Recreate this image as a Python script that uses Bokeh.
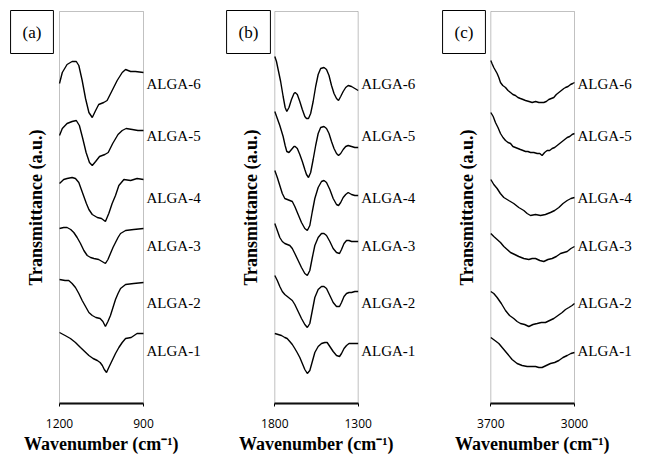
from bokeh.plotting import figure
from bokeh.models import Range1d, FixedTicker, Label, LinearAxis, BoxAnnotation
from bokeh.layouts import row
from bokeh.embed import file_html
from bokeh.resources import INLINE

# ---------------- data (transmittance in a.u., stacked) -------------
samples = ["ALGA-1", "ALGA-2", "ALGA-3", "ALGA-4", "ALGA-5", "ALGA-6"]

# Panel (a): 1200-900 cm-1
a_wn_1 = [1200,1180,1161,1143,1125,1110,1095,1080,1065,1055,1047,1040,1032,1024,1012,1000,988,976,964,944,923,900]
a_tr_1 = [71,68,65,61,56,52,48,45,43,41,38,34,31,36,43,50,56,61,65,66,70,70]
a_wn_2 = [1200,1180,1167,1155,1143,1131,1119,1107,1095,1083,1070,1055,1045,1036,1027,1018,1009,1000,991,982,964,935,900]
a_tr_2 = [124,123,123,120,116,110,103,97,91,88,86,85,82,77,82,88,96,104,110,115,119,120,121]
a_wn_3 = [1200,1185,1173,1160,1149,1137,1125,1113,1101,1089,1077,1060,1048,1036,1027,1018,1009,1000,991,982,964,935,900]
a_tr_3 = [175,176,176,174,171,166,160,153,148,146,145,144,142,140,144,150,156,161,166,170,173,174,175]
a_wn_4 = [1200,1185,1173,1155,1143,1131,1122,1113,1104,1095,1083,1065,1050,1036,1024,1012,1000,988,970,946,923,900]
a_tr_4 = [220,224,225,226,225,221,214,207,200,194,189,186,185,182,190,200,208,218,224,223,225,224]
a_wn_5 = [1200,1190,1173,1155,1140,1129,1117,1105,1093,1083,1071,1057,1038,1026,1010,991,976,962,940,920,900]
a_tr_5 = [268,275,280,282,283,278,265,251,241,238,242,247,249,251,260,269,273,275,274,273,273]
a_wn_6 = [1200,1190,1173,1155,1140,1131,1119,1107,1095,1083,1071,1060,1042,1030,1012,994,976,964,946,929,900]
a_tr_6 = [320,331,339,342,342,338,323,305,291,286,293,299,301,303,313,323,331,334,332,332,331]

# Panel (b): 1800-1300 cm-1
b_wn_1 = [1800,1780,1760,1740,1726,1710,1695,1680,1666,1650,1635,1620,1605,1590,1575,1560,1540,1520,1500,1486,1470,1450,1430,1412,1400,1385,1370,1355,1340,1320,1300]
b_tr_1 = [70,69,68,66,65,62,59,55,51,46,40,34,30,33,42,51,57,60,61,61,57,52,48,47,50,55,58,60,60,60,60]
b_wn_2 = [1800,1785,1770,1755,1740,1725,1710,1695,1680,1660,1640,1620,1605,1590,1575,1560,1540,1520,1505,1490,1470,1450,1430,1412,1400,1385,1370,1355,1340,1320,1300]
b_tr_2 = [128,123,117,112,109,107,105,103,99,92,85,79,76,80,93,106,114,117,117,115,108,101,97,97,101,107,110,111,111,112,112]
b_wn_3 = [1800,1785,1770,1755,1740,1725,1710,1695,1680,1660,1640,1620,1605,1590,1575,1560,1540,1520,1505,1490,1470,1450,1430,1412,1400,1385,1370,1355,1340,1320,1300]
b_tr_3 = [180,173,166,162,160,159,158,155,150,143,136,130,128,133,146,158,166,170,170,168,162,155,151,150,154,160,163,163,162,162,162]
b_wn_4 = [1800,1785,1770,1755,1740,1725,1710,1695,1680,1660,1640,1620,1605,1590,1575,1560,1540,1520,1505,1490,1470,1450,1430,1418,1405,1390,1375,1360,1340,1320,1300]
b_tr_4 = [233,226,218,210,205,204,203,202,197,189,181,175,173,178,192,205,216,222,223,221,214,205,199,198,201,206,209,211,209,208,208]
b_wn_5 = [1800,1785,1770,1750,1738,1728,1715,1700,1685,1678,1665,1650,1635,1620,1610,1598,1585,1570,1555,1540,1525,1505,1490,1475,1460,1445,1430,1418,1405,1390,1375,1360,1340,1320,1300]
b_tr_5 = [292,285,278,267,258,252,251,254,257,257,255,249,242,234,229,226,231,244,258,270,276,277,275,270,262,255,250,248,250,254,257,258,257,256,256]
b_wn_6 = [1800,1790,1780,1765,1750,1738,1728,1715,1700,1685,1678,1665,1650,1635,1620,1610,1598,1585,1570,1555,1540,1525,1505,1490,1475,1460,1445,1430,1418,1405,1390,1375,1360,1340,1320,1300]
b_tr_6 = [347,342,334,322,307,296,292,296,304,310,311,309,302,294,287,285,285,290,302,317,329,335,336,334,328,318,310,305,303,307,312,316,318,317,315,313]

# Panel (c): 3700-3000 cm-1
c_wn_1 = [3700,3666,3633,3598,3563,3522,3480,3438,3396,3361,3326,3298,3271,3236,3201,3166,3131,3096,3061,3030,3000]
c_tr_1 = [66,63,60,55,50,44,40,38,37,37,37,36,36,38,40,41,43,46,48,50,51]
c_wn_2 = [3700,3675,3647,3612,3577,3543,3508,3480,3452,3417,3382,3347,3312,3278,3243,3208,3173,3138,3103,3075,3047,3020,3000]
c_tr_2 = [112,110,106,100,93,88,85,82,80,79,77,79,80,81,81,83,85,88,91,94,96,98,100]
c_wn_3 = [3700,3675,3647,3619,3591,3563,3535,3500,3466,3424,3382,3354,3326,3290,3257,3222,3187,3152,3117,3089,3061,3030,3000]
c_tr_3 = [170,167,164,161,157,154,151,149,147,145,144,145,145,143,142,144,145,147,150,151,152,155,157]
c_wn_4 = [3700,3675,3647,3620,3591,3550,3508,3466,3424,3396,3368,3326,3284,3243,3201,3166,3131,3096,3061,3030,3000]
c_tr_4 = [224,219,215,210,206,203,200,196,193,190,188,189,188,189,191,193,196,200,203,205,206]
c_wn_5 = [3700,3680,3661,3640,3619,3598,3577,3556,3535,3515,3494,3473,3452,3430,3410,3389,3368,3340,3312,3290,3271,3250,3229,3208,3187,3166,3145,3124,3103,3082,3061,3040,3020,3000]
c_tr_5 = [291,287,281,276,270,266,263,261,260,257,256,255,254,253,252,252,251,251,250,250,248,251,253,253,255,256,258,260,262,264,266,267,269,270]
c_wn_6 = [3700,3690,3675,3661,3647,3633,3619,3600,3577,3556,3535,3515,3494,3473,3452,3430,3410,3380,3354,3325,3298,3275,3257,3236,3215,3194,3173,3152,3131,3110,3089,3075,3054,3033,3015,3000]
c_tr_6 = [343,340,336,333,330,326,321,318,316,313,311,309,308,306,305,304,303,302,301,302,301,301,301,302,304,305,306,309,311,313,315,316,317,319,320,321]

panel_tags = ["(a)", "(b)", "(c)"]
x_limits = [(1200, 900), (1800, 1300), (3700, 3000)]
x_ticks = [[1200, 900], [1800, 1300], [3700, 3000]]
y_limits = (0, 392)

# heights of the sample names (same in every panel)
name_levels = [53, 101, 158, 206, 268, 320]

panels_data = [
    [(a_wn_1, a_tr_1), (a_wn_2, a_tr_2), (a_wn_3, a_tr_3), (a_wn_4, a_tr_4), (a_wn_5, a_tr_5), (a_wn_6, a_tr_6)],
    [(b_wn_1, b_tr_1), (b_wn_2, b_tr_2), (b_wn_3, b_tr_3), (b_wn_4, b_tr_4), (b_wn_5, b_tr_5), (b_wn_6, b_tr_6)],
    [(c_wn_1, c_tr_1), (c_wn_2, c_tr_2), (c_wn_3, c_tr_3), (c_wn_4, c_tr_4), (c_wn_5, c_tr_5), (c_wn_6, c_tr_6)],
]

SERIF = "Liberation Serif"

# ---------------- layout geometry (pixels) ----------------
H = 454
FRAME_TOP, FRAME_BOTTOM = 11, 403          # box top / bottom on screen
# per panel: figure width, box left px, box right px, tag box centre x
geom = [(215, 59.0, 143.0, 31.5), (215, 59.3, 142.7, 33.0), (216, 60.3, 144.0, 33.5)]
TAG_CY = 31.5


def make_panel(i):
    w, bx0, bx1, tagx = geom[i]
    x0, x1 = x_limits[i]
    ux = (x0 - x1) / (bx1 - bx0)                     # data units per pixel (reversed axis)
    uy = (y_limits[1] - y_limits[0]) / (FRAME_BOTTOM - FRAME_TOP)
    xr = Range1d(x0 + bx0 * ux, x1 - (w - bx1) * ux)
    yr = Range1d(y_limits[0] - (H - FRAME_BOTTOM) * uy, y_limits[1] + FRAME_TOP * uy)

    p = figure(width=w, height=H, output_backend="svg", toolbar_location=None,
               x_range=xr, y_range=yr, x_axis_location=None, y_axis_location=None,
               title_location=None, min_border=0)
    p.grid.visible = False
    p.background_fill_color = "white"
    p.border_fill_color = "white"
    p.outline_line_color = None

    # spectrum box
    p.add_layout(BoxAnnotation(left=x0, right=x1, bottom=y_limits[0], top=y_limits[1],
                               fill_color=None, line_color="#333333", line_width=1))

    for wn, tr in panels_data[i]:
        p.line(wn, tr, line_color="black", line_width=1.4)

    # x axis, fixed at the bottom edge of the box
    xa = LinearAxis(fixed_location=y_limits[0], bounds=(x1, x0),
                    ticker=FixedTicker(ticks=x_ticks[i]))
    xa.minor_tick_line_color = None
    xa.major_tick_out = 3
    xa.major_tick_in = 0
    xa.major_tick_line_color = "black"
    xa.axis_line_color = "black"
    xa.axis_line_width = 2
    xa.major_label_text_font = "Open Sans"
    xa.major_label_text_font_size = "12px"
    xa.major_label_text_color = "black"
    xa.major_label_standoff = 12
    xa.axis_label = "Wavenumber (cm\u207b\u00b9)"
    xa.axis_label_text_font = SERIF
    xa.axis_label_text_font_style = "bold"
    xa.axis_label_text_font_size = "18px"
    xa.axis_label_text_color = "black"
    xa.axis_label_standoff = 3
    p.add_layout(xa, "below")

    # y axis (no ticks), fixed at the left edge of the box
    ya = LinearAxis(fixed_location=x0, bounds=y_limits, ticker=FixedTicker(ticks=[]))
    ya.major_tick_line_color = None
    ya.minor_tick_line_color = None
    ya.major_tick_out = 0
    ya.axis_line_color = None
    ya.axis_label = "Transmittance (a.u.)"
    ya.axis_label_text_font = SERIF
    ya.axis_label_text_font_style = "bold"
    ya.axis_label_text_font_size = "18px"
    ya.axis_label_text_color = "black"
    ya.axis_label_standoff = 14
    p.add_layout(ya, "left")

    # sample names at the right of the traces
    for name, lvl in zip(samples, name_levels):
        p.add_layout(Label(x=x1, y=lvl, x_offset=3, text=name,
                           text_align="left", text_baseline="middle",
                           text_font=SERIF, text_font_size="15px", text_color="black"))

    # panel tag in a box
    p.add_layout(Label(x=tagx, x_units="screen", y=y_limits[1] + (FRAME_TOP - TAG_CY) * uy,
                       text=panel_tags[i], text_align="center", text_baseline="middle",
                       text_font=SERIF, text_font_size="17px", text_color="black",
                       border_line_color="black", border_line_width=1,
                       background_fill_color="white", padding=12))
    return p


layout = row(make_panel(0), make_panel(1), make_panel(2))
open("out.html", "w").write(file_html(layout, INLINE))
